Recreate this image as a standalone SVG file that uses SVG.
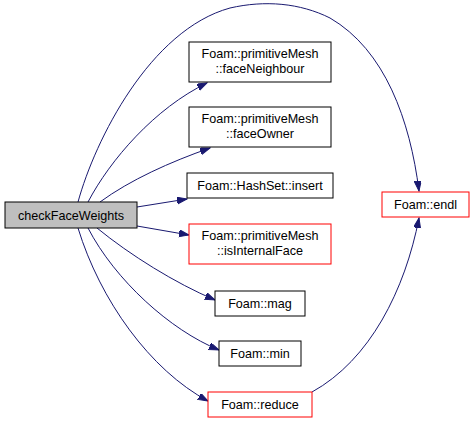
<svg xmlns="http://www.w3.org/2000/svg" width="475" height="423" viewBox="0 0 475 423">
<style>
.n rect{fill:#fff;stroke:#000;stroke-width:1}
.n.r rect{stroke:#ff0000}
.n.g rect{fill:#bfbfbf}
.n text{font-family:"Liberation Sans",Arial,sans-serif;font-size:12.6px;fill:#000;text-anchor:middle}
.e path{fill:none;stroke:#191970;stroke-width:1}
</style>
<defs>
<marker id="a" markerWidth="11" markerHeight="8" refX="10" refY="3.5" orient="auto" markerUnits="userSpaceOnUse">
<path d="M0,0 L10,3.5 L0,7 z" fill="#191970" stroke="#191970"/>
</marker>
</defs>
<rect width="475" height="423" fill="#fff"/>
<g id="edges" class="e">
<path d="M78,202 C95,140 150,30 230,8 C265,0 300,3 330,18 C385,50 410,120 419,191" marker-end="url(#a)"/>
<path d="M88,202 C110,160 155,108 207,83" marker-end="url(#a)"/>
<path d="M100,202 C130,180 170,162 210,148" marker-end="url(#a)"/>
<path d="M137,207 L187,199" marker-end="url(#a)"/>
<path d="M137,226 L189,235" marker-end="url(#a)"/>
<path d="M97,228 C130,255 175,283 215,300" marker-end="url(#a)"/>
<path d="M88,228 C115,280 170,330 219,350" marker-end="url(#a)"/>
<path d="M78,228 C100,300 150,370 208,401" marker-end="url(#a)"/>
<path d="M312,392 C370,360 405,290 419,218" marker-end="url(#a)"/>
</g>
<g id="checkFaceWeights" class="n g"><rect x="5" y="202" width="132" height="26"/><text x="71" y="219.5">checkFaceWeights</text></g>
<g id="faceNeighbour" class="n"><rect x="189" y="42" width="142" height="40"/><text x="260" y="58">Foam::primitiveMesh</text><text x="260" y="73">::faceNeighbour</text></g>
<g id="faceOwner" class="n"><rect x="189" y="107" width="142" height="40"/><text x="260" y="123">Foam::primitiveMesh</text><text x="260" y="138">::faceOwner</text></g>
<g id="insert" class="n"><rect x="187" y="173" width="146" height="25"/><text x="260" y="190">Foam::HashSet::insert</text></g>
<g id="isInternalFace" class="n r"><rect x="189" y="224" width="142" height="40"/><text x="260" y="240">Foam::primitiveMesh</text><text x="260" y="255">::isInternalFace</text></g>
<g id="mag" class="n"><rect x="215" y="291" width="90" height="25"/><text x="260" y="308">Foam::mag</text></g>
<g id="min" class="n"><rect x="219" y="341" width="82" height="25"/><text x="260" y="358">Foam::min</text></g>
<g id="reduce" class="n r"><rect x="208" y="392" width="104" height="25"/><text x="260" y="409">Foam::reduce</text></g>
<g id="endl" class="n r"><rect x="382" y="192" width="87" height="25"/><text x="425.5" y="209">Foam::endl</text></g>
</svg>
